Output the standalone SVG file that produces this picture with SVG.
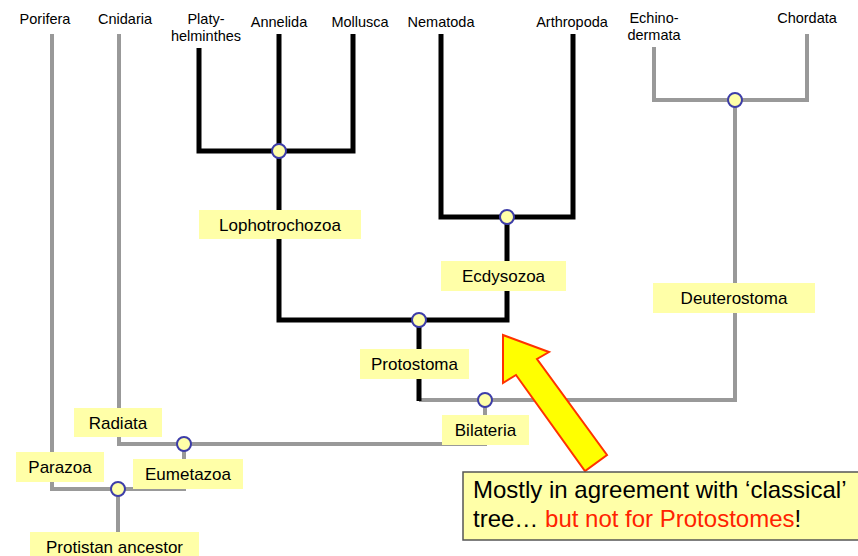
<svg xmlns="http://www.w3.org/2000/svg" width="858" height="556" viewBox="0 0 858 556">
<style>
text{font-family:"Liberation Sans",Arial,sans-serif;fill:#000}
.top{font-size:14.5px;text-anchor:middle}
.lbl{font-size:17px;text-anchor:middle}
.box{fill:#ffffa8}
.g{stroke:#999;stroke-width:4;fill:none;stroke-linejoin:miter}
.b{stroke:#000;stroke-width:5;fill:none;stroke-linejoin:miter}
.nd{fill:#ffffa8;stroke:#3d3da8;stroke-width:2}
</style>
<rect width="858" height="556" fill="#fff"/>
<g id="connectors">
<polyline class="g" points="52,34 52,489 184,489 184,444"/>
<polyline class="g" points="119,34 119,444 485,444 485,400"/>
<line class="g" x1="118" y1="489" x2="118" y2="534"/>
<polyline class="g" points="419,400 735,400 735,100"/>
<polyline class="g" points="654,47 654,100 807,100 807,34"/>
<polyline class="b" points="199,48 199,151 353,151 353,34"/>
<line class="b" x1="279" y1="34" x2="279" y2="151"/>
<polyline class="b" points="279,151 279,320 507,320 507,217"/>
<polyline class="b" points="441,34 441,217 573,217 573,34"/>
<line class="b" x1="419" y1="320" x2="419" y2="401"/>
</g>
<g id="taxa">
<text class="top" x="45" y="24">Porifera</text>
<text class="top" x="125" y="24">Cnidaria</text>
<text class="top" x="206" y="24">Platy-</text>
<text class="top" x="206" y="41">helminthes</text>
<text class="top" x="279" y="27">Annelida</text>
<text class="top" x="360" y="27">Mollusca</text>
<text class="top" x="441" y="27">Nematoda</text>
<text class="top" x="572" y="27">Arthropoda</text>
<text class="top" x="654" y="23">Echino-</text>
<text class="top" x="654" y="40">dermata</text>
<text class="top" x="807" y="23">Chordata</text>
</g>
<g id="lophotrochozoa"><rect class="box" x="199" y="210" width="162" height="29"/><text class="lbl" x="280" y="231">Lophotrochozoa</text><circle class="nd" cx="279" cy="151" r="7"/></g>
<g id="ecdysozoa"><rect class="box" x="441" y="261" width="125" height="30"/><text class="lbl" x="503.5" y="282">Ecdysozoa</text><circle class="nd" cx="507" cy="217" r="7"/></g>
<g id="deuterostoma"><rect class="box" x="653" y="283" width="162" height="30"/><text class="lbl" x="734" y="304">Deuterostoma</text><circle class="nd" cx="735" cy="100" r="7"/></g>
<g id="protostoma"><rect class="box" x="360" y="349" width="109" height="30"/><text class="lbl" x="414.5" y="370">Protostoma</text><circle class="nd" cx="419" cy="320" r="7"/></g>
<g id="bilateria"><rect class="box" x="442" y="415" width="87" height="30"/><text class="lbl" x="485.5" y="436">Bilateria</text><circle class="nd" cx="485" cy="400" r="7"/></g>
<g id="radiata"><rect class="box" x="74" y="408" width="88" height="29"/><text class="lbl" x="118" y="429">Radiata</text></g>
<g id="eumetazoa"><rect class="box" x="133" y="459" width="110" height="30"/><text class="lbl" x="188" y="480">Eumetazoa</text><circle class="nd" cx="184" cy="444" r="7"/></g>
<g id="parazoa"><rect class="box" x="16" y="452" width="88" height="30"/><text class="lbl" x="60" y="473">Parazoa</text></g>
<g id="protistan"><rect class="box" x="30" y="532" width="169" height="30"/><text class="lbl" x="114.5" y="553">Protistan ancestor</text><circle class="nd" cx="118" cy="489" r="7"/></g>
<g id="arrow"><polygon points="503,335 549,352 537,359 607,455 585,471 516,375 503,383" fill="#ffff00" stroke="#ff3300" stroke-width="2" stroke-linejoin="miter"/></g>
<g id="note"><rect x="463" y="472" width="410" height="68" fill="#ffffa8" stroke="#555" stroke-width="1.5"/>
<text x="473" y="498" style="font-size:24px">Mostly in agreement with ‘classical’</text>
<text x="473" y="527" style="font-size:24px">tree… <tspan fill="#ff2200">but not for Protostomes</tspan>!</text></g>
</svg>
